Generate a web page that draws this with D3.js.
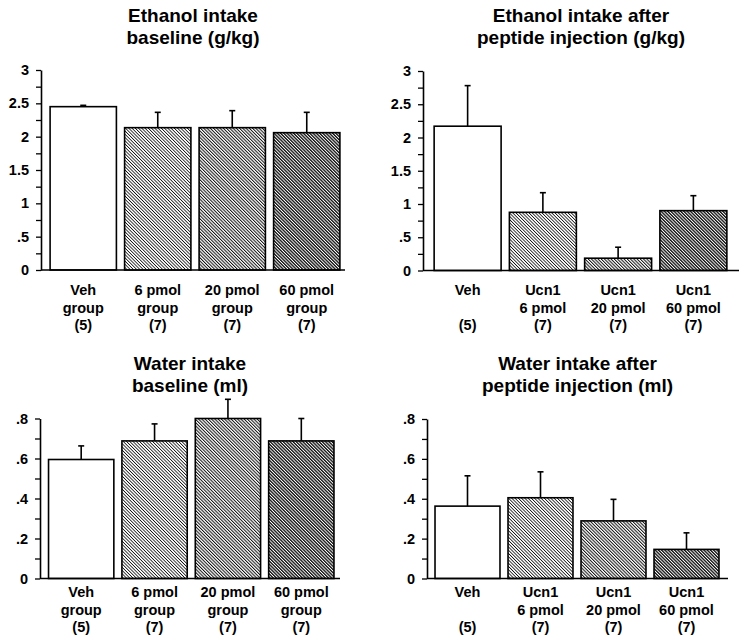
<!DOCTYPE html>
<html>
<head>
<meta charset="utf-8">
<script src="https://cdn.jsdelivr.net/npm/d3@7"></script>
<style>
  html, body { margin: 0; padding: 0; background: #fff; }
  svg { display: block; }
  text { font-family: "Liberation Sans", Arial, sans-serif; font-weight: bold; fill: #000; }
</style>
</head>
<body>
<svg id="chart" width="745" height="641"></svg>
<script>
// ---------- data ----------
const catsBaseline = [["Veh", "group", "(5)"], ["6 pmol", "group", "(7)"], ["20 pmol", "group", "(7)"], ["60 pmol", "group", "(7)"]];
const catsAfter = [["Veh", "", "(5)"], ["Ucn1", "6 pmol", "(7)"], ["Ucn1", "20 pmol", "(7)"], ["Ucn1", "60 pmol", "(7)"]];

const ethanolBaselineMean = [2.45, 2.135, 2.135, 2.06];
const ethanolBaselineErr = [0.02, 0.23, 0.255, 0.305];
const ethanolAfterMean = [2.17, 0.875, 0.185, 0.90];
const ethanolAfterErr = [0.61, 0.295, 0.165, 0.225];
const waterBaselineMean = [0.595, 0.688, 0.80, 0.688];
const waterBaselineErr = [0.068, 0.085, 0.096, 0.112];
const waterAfterMean = [0.363, 0.405, 0.289, 0.146];
const waterAfterErr = [0.152, 0.13, 0.108, 0.083];

const ethanolTicks = [0, 0.5, 1, 1.5, 2, 2.5, 3];
const ethanolTickLabels = ["0", ".5", "1", "1.5", "2", "2.5", "3"];
const ethanolMinorTicks = [0.25, 0.75, 1.25, 1.75, 2.25, 2.75];
const waterTicks = [0, 0.2, 0.4, 0.6, 0.8];
const waterTickLabels = ["0", ".2", ".4", ".6", ".8"];
const waterMinorTicks = [0.1, 0.3, 0.5, 0.7];

const titleEthanolBaseline = ["Ethanol intake", "baseline (g/kg)"];
const titleEthanolAfter = ["Ethanol intake after", "peptide injection (g/kg)"];
const titleWaterBaseline = ["Water intake", "baseline (ml)"];
const titleWaterAfter = ["Water intake after", "peptide injection (ml)"];

// ---------- drawing ----------
const svg = d3.select("#chart");
const defs = svg.append("defs");

const hatchDefs = [
  { id: "hatchLight", w: 0.8 },
  { id: "hatchMed", w: 1.0 },
  { id: "hatchDark", w: 1.35 }
];
const period = 2.3;
hatchDefs.forEach(h => {
  const p = defs.append("pattern")
    .attr("id", h.id)
    .attr("patternUnits", "userSpaceOnUse")
    .attr("width", period).attr("height", period)
    .attr("patternTransform", "rotate(-45)");
  p.append("rect").attr("width", period).attr("height", period).attr("fill", "#fff");
  p.append("rect").attr("x", 0).attr("y", 0).attr("width", h.w).attr("height", period).attr("fill", "#111");
});
const fills = ["#fff", "url(#hatchLight)", "url(#hatchMed)", "url(#hatchDark)"];

function panel(cfg) {
  const g = svg.append("g");
  const y = d3.scaleLinear().domain(cfg.domain).range([cfg.y0, cfg.yTop]);
  const x = d3.scaleBand().domain(d3.range(cfg.mean.length))
    .range(cfg.band).paddingInner(0.11).paddingOuter(0.055);

  // title
  const cx = (cfg.axisX + cfg.xEnd) / 2;
  cfg.title.forEach((t, i) => {
    g.append("text").attr("x", cx).attr("y", cfg.titleY + i * 22)
      .attr("text-anchor", "middle").attr("font-size", 19).text(t);
  });

  // bars
  g.selectAll("rect.bar").data(cfg.mean).enter().append("rect")
    .attr("class", "bar")
    .attr("x", (d, i) => x(i))
    .attr("y", d => y(d))
    .attr("width", x.bandwidth())
    .attr("height", d => y(0) - y(d))
    .attr("fill", (d, i) => fills[i])
    .attr("stroke", "#000").attr("stroke-width", 1.6);

  // error bars
  cfg.mean.forEach((m, i) => {
    const xc = x(i) + x.bandwidth() / 2;
    g.append("line").attr("x1", xc).attr("x2", xc)
      .attr("y1", y(m)).attr("y2", y(m + cfg.err[i]))
      .attr("stroke", "#000").attr("stroke-width", 1.6);
    g.append("line").attr("x1", xc - 3).attr("x2", xc + 3)
      .attr("y1", y(m + cfg.err[i])).attr("y2", y(m + cfg.err[i]))
      .attr("stroke", "#000").attr("stroke-width", 1.6);
  });

  // y axis major
  const yAxis = d3.axisLeft(y).tickValues(cfg.ticks)
    .tickFormat((d, i) => cfg.tickLabels[i]).tickSize(5).tickSizeOuter(0).tickPadding(7);
  const ga = g.append("g").attr("transform", `translate(${cfg.axisX},0)`).call(yAxis);
  ga.select(".domain").attr("stroke-width", 1.6);
  ga.selectAll(".tick line").attr("stroke-width", 1.3);
  ga.selectAll(".tick text").attr("font-size", 14.5).attr("font-family", "Liberation Sans, Arial, sans-serif").attr("font-weight", "bold");
  // minor ticks
  const yMinor = d3.axisLeft(y).tickValues(cfg.minor).tickFormat("").tickSize(5).tickSizeOuter(0);
  const gm = g.append("g").attr("transform", `translate(${cfg.axisX},0)`).call(yMinor);
  gm.select(".domain").remove();
  gm.selectAll(".tick line").attr("stroke-width", 1.3);

  // x baseline
  g.append("line").attr("x1", cfg.axisX).attr("x2", cfg.xEnd)
    .attr("y1", y(0)).attr("y2", y(0)).attr("stroke", "#000").attr("stroke-width", 1.6);

  // category labels
  cfg.cats.forEach((lines, i) => {
    const xc = x(i) + x.bandwidth() / 2;
    lines.forEach((t, j) => {
      if (!t) return;
      g.append("text").attr("x", xc).attr("y", cfg.labelY + j * 17.5)
        .attr("text-anchor", "middle").attr("font-size", 14.5).text(t);
    });
  });
}

panel({ title: titleEthanolBaseline, titleY: 22, mean: ethanolBaselineMean, err: ethanolBaselineErr,
  cats: catsBaseline, domain: [0, 3], ticks: ethanolTicks, tickLabels: ethanolTickLabels, minor: ethanolMinorTicks,
  axisX: 41, xEnd: 345, y0: 270, yTop: 70, band: [46, 344], labelY: 295 });
panel({ title: titleEthanolAfter, titleY: 22, mean: ethanolAfterMean, err: ethanolAfterErr,
  cats: catsAfter, domain: [0, 3], ticks: ethanolTicks, tickLabels: ethanolTickLabels, minor: ethanolMinorTicks,
  axisX: 423, xEnd: 739, y0: 270.5, yTop: 71, band: [430, 731], labelY: 295 });
panel({ title: titleWaterBaseline, titleY: 370, mean: waterBaselineMean, err: waterBaselineErr,
  cats: catsBaseline, domain: [0, 0.8], ticks: waterTicks, tickLabels: waterTickLabels, minor: waterMinorTicks,
  axisX: 40, xEnd: 340, y0: 578.5, yTop: 418.5, band: [44.5, 338], labelY: 597 });
panel({ title: titleWaterAfter, titleY: 370, mean: waterAfterMean, err: waterAfterErr,
  cats: catsAfter, domain: [0, 0.8], ticks: waterTicks, tickLabels: waterTickLabels, minor: waterMinorTicks,
  axisX: 427, xEnd: 728, y0: 578.5, yTop: 419, band: [431, 723], labelY: 597 });
</script>
</body>
</html>
